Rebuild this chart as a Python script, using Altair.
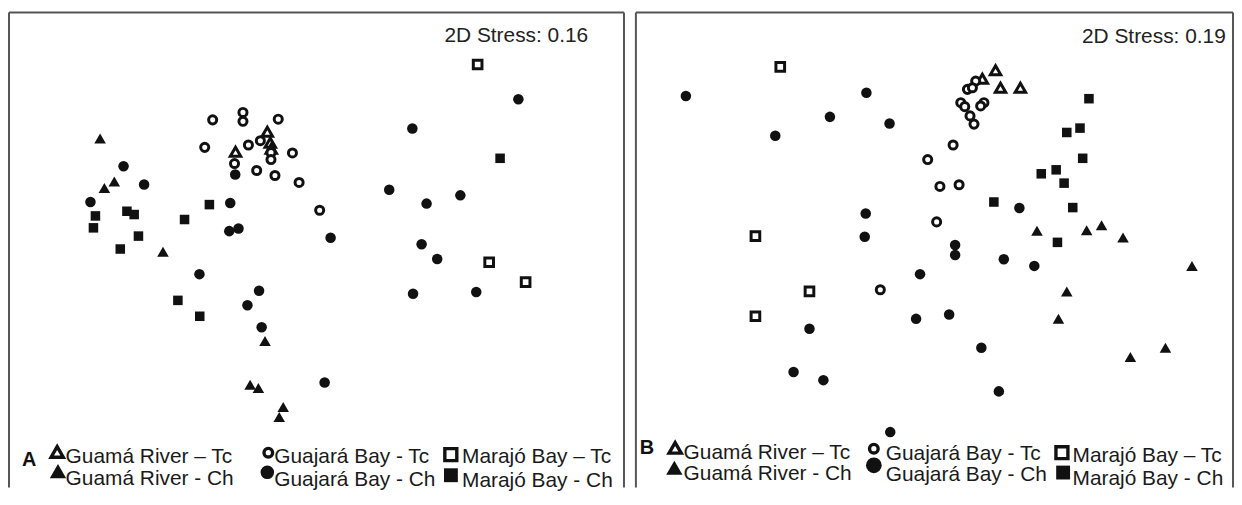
import altair as alt
import pandas as pd

# ---------------- data ----------------
GROUPS = ["Guamá River – Tc", "Guamá River - Ch", "Guajará Bay - Tc",
          "Guajará Bay - Ch", "Marajó Bay – Tc", "Marajó Bay - Ch"]
SHAPES = ["triangle-up", "triangle-up", "circle", "circle", "square", "square"]
FILLED = [False, True, False, True, False, True]
PANEL_LABELS = ["A", "B"]
STRESS = ["2D Stress: 0.16", "2D Stress: 0.19"]

# Panel A: ordination positions (NMDS1, NMDS2; plot units, NMDS2 grows downward)
A_GUAMA_TC = [(261, 120), (264, 131), (229, 140), (265, 137)]
A_GUAMA_CH = [(92.7, 126.7), (107, 170), (97, 176.7), (156, 240.7), (258.7, 330.7),
              (243.7, 374.7), (252, 378), (277, 397), (273, 407)]
A_GUAJARA_TC = [(206, 108), (236.5, 100.5), (236.5, 109.5), (272, 107.3), (198, 135.7),
                (242, 133.3), (254, 129), (286.3, 141.3), (228, 152), (250.3, 159),
                (268.7, 164), (293, 171), (264.7, 141), (264.7, 148), (313.7, 199)]
A_GUAJARA_CH = [(116.3, 154.7), (137, 173), (83, 190.7), (228.7, 163), (223.7, 191.7),
                (222.7, 220), (232, 217.3), (192.7, 263.3), (252.7, 280), (241, 294.7),
                (255.3, 316.7), (324.7, 226.7), (407, 116.7), (513.7, 87.3), (383.7, 178.3),
                (421.3, 192.3), (455.3, 184), (416.3, 233.3), (432, 248), (407.7, 283),
                (471.3, 281.3), (318.7, 372.3)]
A_MARAJO_TC = [(472.7, 52.3), (484.3, 251.3), (521, 271.3)]
A_MARAJO_CH = [(88, 204.7), (86, 216.7), (119.7, 200), (127, 203.3), (131.3, 225),
               (113, 238), (177.7, 208.3), (202.7, 193.3), (171, 289.7), (193, 305.7),
               (495.3, 146.7)]

# Panel B
B_GUAMA_TC = [(363, 58), (349.7, 66.7), (368, 75.7), (388, 75.7)]
B_GUAMA_CH = [(404.7, 219.7), (454.7, 219), (469.7, 214), (491.3, 226.3), (560.7, 255),
              (434.7, 280.7), (426.3, 308.3), (498.7, 346.7), (534, 337.3)]
B_GUAJARA_TC = [(247, 279), (294.7, 148), (320.3, 133.3), (307, 175), (326.3, 173.3),
                (303.7, 210.7), (343, 69), (334.7, 77.3), (339.7, 75.7), (328, 90.7),
                (332, 94.7), (351.3, 90.7), (348, 94), (337.3, 104), (341.3, 112.3)]
B_GUAJARA_CH = [(51.3, 84), (233, 80.7), (196.3, 105), (256.3, 111.7), (141.3, 124),
                (232.3, 202.3), (231.3, 225.7), (287, 263.3), (283, 308.3), (175.7, 318.3),
                (159.7, 361.7), (189.7, 370), (257, 422.3), (387, 196.7), (322.3, 234),
                (322.3, 244), (371.3, 248.3), (402, 255), (316.3, 304), (348.7, 337.3),
                (366.3, 381.3)]
B_MARAJO_TC = [(146.3, 54.7), (121.3, 225), (175.7, 280.7), (121.3, 305.7)]
B_MARAJO_CH = [(457, 86.7), (434.7, 120.7), (448, 116.3), (450.7, 146.7), (409, 162.3),
               (424, 158.3), (432, 171.7), (361.3, 190.7), (440.7, 196.3), (425.3, 231.3)]

PANEL_DATA = [
    [A_GUAMA_TC, A_GUAMA_CH, A_GUAJARA_TC, A_GUAJARA_CH, A_MARAJO_TC, A_MARAJO_CH],
    [B_GUAMA_TC, B_GUAMA_CH, B_GUAJARA_TC, B_GUAJARA_CH, B_MARAJO_TC, B_MARAJO_CH],
]

# ---------------- styling / layout ----------------
INK = "#111111"
FRAME = "#555555"
H = 478
WIDTHS = [619, 601]
DATA_SIZE = {"triangle-up": 135, "circle": 112, "square": 92}
OPEN_SIZE = {"triangle-up": 110, "circle": 66, "square": 76}
LEG_FONT = "Liberation Sans, Arial"
LEG_FS = 21
STRESS_POS = [(583, 29.7), (593.7, 30.7)]
LETTER_POS = [(20.2, 456.5), (11.2, 444.5)]
# legend columns: (sym x row1, sym y row1, sym x row2, sym y row2, text x,
#                  baseline row1, baseline row2)
LEG_COLS = [
    [(48.5, 442.3, 49.3, 461.5, 57, 453.5, 476),
     (261, 443, 260, 462.8, 267, 453.5, 477),
     (444.7, 445, 444.8, 465.7, 456, 453.5, 477.5)],
    [(39.5, 438.2, 38.7, 458.2, 48, 449, 470.7),
     (239.5, 439, 239.5, 455.7, 251.5, 450.5, 472),
     (428.8, 443, 430, 463, 439.5, 452.5, 475.5)],
]
LEG_SIZE = [
    {("triangle-up", False): 150, ("triangle-up", True): 270,
     ("circle", False): 75, ("circle", True): 185,
     ("square", False): 145, ("square", True): 195},
    {("triangle-up", False): 150, ("triangle-up", True): 270,
     ("circle", False): 75, ("circle", True): 250,
     ("square", False): 145, ("square", True): 195},
]


def panel(i):
    W = WIDTHS[i]
    xs = alt.Scale(domain=[1, W + 1], nice=False, zero=False)
    ys = alt.Scale(domain=[0, H], nice=False, zero=False, reverse=True)
    layers = []
    one = pd.DataFrame({"k": [0]})
    # frame (left, top, right)
    layers.append(alt.Chart(one).mark_rule(color=FRAME, strokeWidth=2).encode(
        x=alt.value(0), y=alt.value(0), y2=alt.value(H)))
    layers.append(alt.Chart(one).mark_rule(color=FRAME, strokeWidth=2).encode(
        x=alt.value(0), x2=alt.value(W), y=alt.value(0)))
    layers.append(alt.Chart(one).mark_rule(color=FRAME, strokeWidth=2).encode(
        x=alt.value(W), y=alt.value(0), y2=alt.value(H)))
    # data points
    for g, pts in enumerate(PANEL_DATA[i]):
        df = pd.DataFrame({"NMDS1": [p[0] for p in pts], "NMDS2": [p[1] for p in pts],
                           "group": GROUPS[g]})
        shp = SHAPES[g]
        if FILLED[g]:
            mk = alt.Chart(df).mark_point(shape=shp, filled=True, color=INK, opacity=1,
                                          size=DATA_SIZE[shp])
        else:
            mk = alt.Chart(df).mark_point(shape=shp, filled=False, color=INK, opacity=1,
                                          fill="white", fillOpacity=1,
                                          strokeWidth=3, size=OPEN_SIZE[shp])
        layers.append(mk.encode(
            x=alt.X("NMDS1:Q", scale=xs, axis=None),
            y=alt.Y("NMDS2:Q", scale=ys, axis=None)))
    # stress annotation
    sx, sy = STRESS_POS[i]
    layers.append(alt.Chart(one).mark_text(
        text=STRESS[i], font="Liberation Sans, Arial", fontSize=21, color="#222",
        align="right", baseline="alphabetic").encode(x=alt.value(sx), y=alt.value(sy)))
    # panel letter
    lx, ly = LETTER_POS[i]
    layers.append(alt.Chart(one).mark_text(
        text=PANEL_LABELS[i], font="Liberation Sans, Arial", fontSize=20, fontWeight="bold",
        color=INK, align="center", baseline="alphabetic").encode(
            x=alt.value(lx), y=alt.value(ly)))
    # legend
    for c in range(3):
        x1, y1, x2, y2, tx, b1, b2 = LEG_COLS[i][c]
        for r in range(2):
            g = c * 2 + r
            shp = SHAPES[g]
            symx, symy = (x1, y1) if r == 0 else (x2, y2)
            if FILLED[g]:
                sm = alt.Chart(one).mark_point(shape=shp, filled=True, color=INK, opacity=1,
                                               size=LEG_SIZE[i][(shp, True)])
            else:
                sm = alt.Chart(one).mark_point(shape=shp, filled=False, color=INK, opacity=1,
                                               strokeWidth=3.4, size=LEG_SIZE[i][(shp, False)])
            layers.append(sm.encode(x=alt.value(symx), y=alt.value(symy)))
            layers.append(alt.Chart(one).mark_text(
                text=GROUPS[g], font=LEG_FONT, fontSize=LEG_FS, color="#1a1a1a",
                align="left", baseline="alphabetic").encode(
                    x=alt.value(tx), y=alt.value(b1 if r == 0 else b2)))
    return alt.layer(*layers).properties(width=W, height=H)


chart = alt.hconcat(panel(0), panel(1), spacing=10).properties(
    padding={"left": 0, "top": 2, "right": 0, "bottom": 0}
).configure_view(stroke=None)

chart.save("out.html", embed_options={"renderer": "svg", "actions": False})
